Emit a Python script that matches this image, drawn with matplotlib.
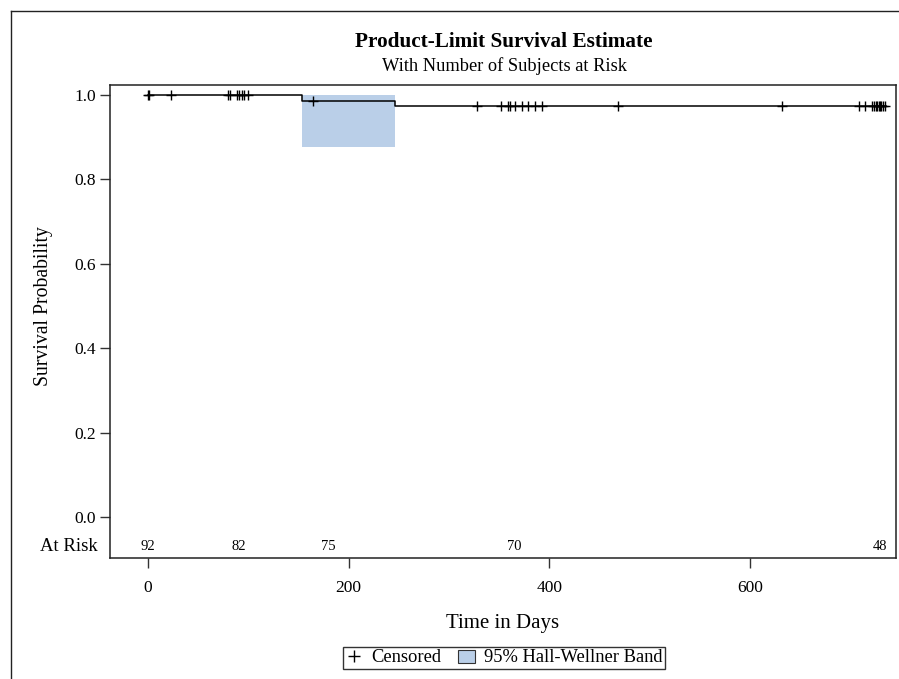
import numpy as np
import matplotlib
matplotlib.use("Agg")
import matplotlib.pyplot as plt
from matplotlib.lines import Line2D
from matplotlib.patches import Patch

plt.rcParams['font.family'] = ['Liberation Serif', 'DejaVu Serif']

# Kaplan-Meier step curve
event_times = [0, 153.5, 246.2]
surv_values = [1.0, 0.9865, 0.9735]
end_time = 736

# Censored times
censor_times = [0, 1, 23, 80, 82, 88.5, 91, 93.5, 96, 99.5, 164, 328, 351.5,
                359, 360.5, 366, 372.5, 379, 386, 393, 468.5, 632, 709, 715,
                722, 724, 725.5, 727, 729, 730, 731, 733, 735]

# Hall-Wellner band segment
band_times = [153.5, 246.2]
band_lower = [0.8775, 0.8775]
band_upper = [1.0, 1.0]

# At-risk table
risk_times = [0, 90, 180, 365, 730]
risk_counts = [92, 82, 75, 70, 48]

xticks = [0, 200, 400, 600]
yticks = [0.0, 0.2, 0.4, 0.6, 0.8, 1.0]

fig = plt.figure(figsize=(8.99, 6.79), dpi=100)
W, H = 899, 679
ax = fig.add_axes([110 / W, 1 - 558 / H, (896 - 110) / W, (558 - 85) / H])

ax.fill_between(band_times, band_lower, band_upper, step='post',
                color='#BACFE8', linewidth=0, zorder=1)

xs = list(event_times) + [end_time]
ys = list(surv_values) + [surv_values[-1]]
ax.plot(xs, ys, drawstyle='steps-post', color='black', linewidth=1.1, zorder=3)

idx = np.searchsorted(event_times, censor_times, side='right') - 1
cy = np.array(surv_values)[idx]
ax.plot(censor_times, cy, linestyle='none', marker='+', color='black',
        markersize=7, markeredgewidth=1.0, zorder=4)

ax.set_xlim(-37.9, 745.5)
ax.set_ylim(-0.0972, 1.0237)
ax.set_xticks(xticks)
ax.set_xticklabels([str(t) for t in xticks])
ax.set_yticks(yticks)
ax.set_yticklabels([f"{v:.1f}" for v in yticks])
ax.tick_params(direction='out', length=7, width=1, labelsize=12.5, pad=3,
               color='#333333')
ax.tick_params(axis='x', pad=9)
for sp in ax.spines.values():
    sp.set_linewidth(1.1)
    sp.set_color('#222222')

for t, n in zip(risk_times, risk_counts):
    ax.text(t, -0.071, str(n), ha='center', va='center', fontsize=10.5)
ax.text(-0.0158, -0.071, "At Risk", transform=ax.get_yaxis_transform(),
        ha='right', va='center', fontsize=13.5)

ax.set_xlabel("Time in Days", fontsize=15)
ax.set_ylabel("Survival Probability", fontsize=14.2)
ax.yaxis.set_label_coords(-(110 - 53) / 786, (558 - 306) / (558 - 85))
ax.xaxis.set_label_coords(0.5, -(614 - 558) / (558 - 85))

fig.text(504 / W, 1 - 42 / H, "Product-Limit Survival Estimate",
         ha='center', va='center', fontsize=15.3, fontweight='bold')
fig.text(504 / W, 1 - 66 / H, "With Number of Subjects at Risk",
         ha='center', va='center', fontsize=13.2)

handles = [Line2D([], [], linestyle='none', marker='+', color='black',
                  markersize=8, markeredgewidth=1.0),
           Patch(facecolor='#BACFE8', edgecolor='#333333', linewidth=0.8)]
leg = fig.legend(handles, ["Censored", "95% Hall-Wellner Band"],
                 loc='center', bbox_to_anchor=(504 / W, 1 - 658 / H),
                 ncol=2, fontsize=13.3, frameon=True, fancybox=False,
                 handlelength=0.9, handletextpad=0.5, columnspacing=0.9,
                 borderpad=0.15, handleheight=0.7, borderaxespad=0)
leg.get_frame().set_edgecolor('black')
leg.get_frame().set_linewidth(1.0)

# outer frame
fig.add_artist(Line2D([10.5 / W, 10.5 / W], [0, 1 - 10.5 / H], color='#222222',
                      linewidth=1.0, transform=fig.transFigure))
fig.add_artist(Line2D([10.5 / W, 1.0], [1 - 10.5 / H, 1 - 10.5 / H],
                      color='#222222', linewidth=1.0, transform=fig.transFigure))

fig.savefig("out.png", dpi=100)
